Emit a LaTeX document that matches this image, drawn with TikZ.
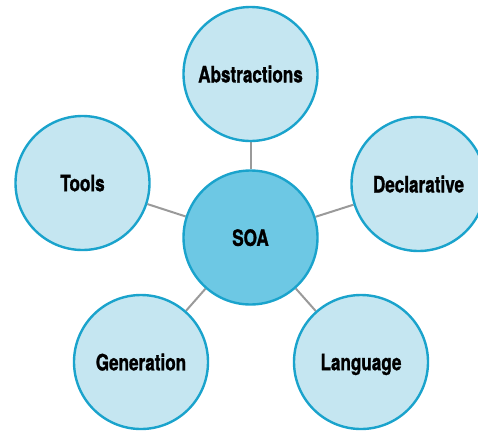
\documentclass[tikz,border=0pt]{standalone}
\usepackage{fontspec}
\setmainfont{TeX Gyre Heros}[FakeStretch=0.76,BoldFeatures={FakeBold=1.2}]
\usetikzlibrary{backgrounds}
\definecolor{ringblue}{HTML}{1AA3CC}
\definecolor{paleblue}{HTML}{C5E6F1}
\definecolor{midblue}{HTML}{6DC8E4}
\definecolor{linkgray}{HTML}{9A9A9A}
\tikzset{
  topic/.style={circle, draw=ringblue, line width=2.4pt, fill=paleblue, minimum size=134pt, inner sep=0pt, text depth=0pt, font=\fontsize{22.5}{24}\selectfont\bfseries},
  hub/.style={topic, fill=midblue},
  link/.style={linkgray, line width=2pt}
}

\begin{document}
\begin{tikzpicture}[x=1pt,y=-1pt]
\useasboundingbox (0,0) rectangle (478,431);
\node[hub] (soa) at (250.5,237.5) {SOA};
\node[topic] (abs) at (250.5,74) {Abstractions};
\node[topic] (decl) at (418.5,184) {Declarative};
\node[topic] (lang) at (361,362) {Language};
\node[topic] (gen) at (141,362) {Generation};
\node[topic] (tools) at (82.5,183) {Tools};

\begin{scope}[on background layer]
\draw[link] (soa) -- (abs);
\draw[link] (soa) -- (decl);
\draw[link] (soa) -- (lang);
\draw[link] (soa) -- (gen);
\draw[link] (soa) -- (tools);
\end{scope}
\end{tikzpicture}
\end{document}
